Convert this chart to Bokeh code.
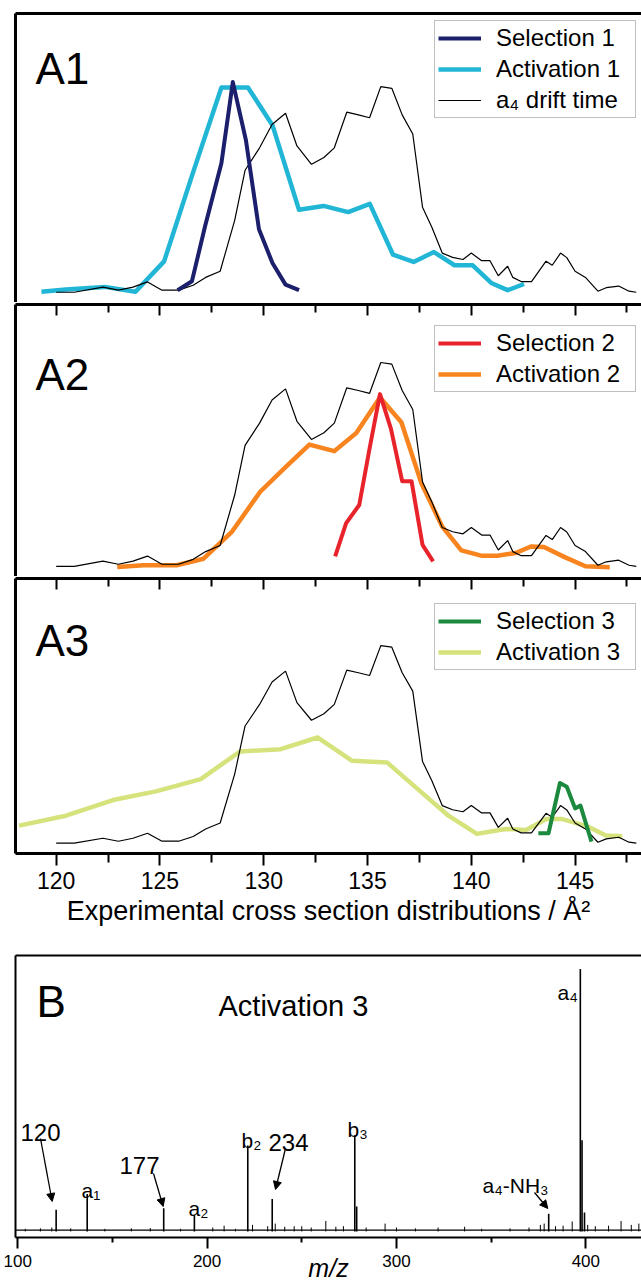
from bokeh.plotting import figure
from bokeh.models import (Range1d, LinearAxis, FixedTicker, Legend, LegendItem,
                          Label, Arrow, NormalHead, ColumnDataSource)
from bokeh.layouts import column
from bokeh.embed import file_html
from bokeh.resources import INLINE

FONT = "Liberation Sans"

# ---------------- data: panel A (cross-section distributions) ----------------
drift_x = [120.0, 120.87, 122.25, 123.0, 123.7, 124.4, 125.1, 125.9, 126.6, 127.2,
           127.9, 128.6, 129.1, 129.8, 130.4, 131.05, 131.6, 132.3, 132.9, 133.4,
           134.0, 134.56, 135.1, 135.64, 136.17, 136.67, 137.18, 137.65, 138.1, 138.6,
           139.1, 139.6, 140.0, 140.5, 140.9, 141.3, 141.75, 142.0, 142.4, 142.9,
           143.6, 143.9, 144.3, 144.6, 145.0, 145.5, 146.1, 146.5, 147.1, 147.6, 147.95]
drift_y = [0, 0, 2.5, 1, 2.5, 5, 1, 1, 3.4, 7.2,
           10.2, 34.9, 59.2, 70.1, 81.4, 86.9, 71, 62.1, 65.4, 70.1,
           87.4, 86.1, 84.7, 99.8, 99, 86.1, 76.8, 41.3, 31.5, 19,
           16.9, 15.9, 19, 15.3, 15.3, 8, 12.6, 7.2, 5.2, 5.2,
           15.1, 13.1, 19, 16.8, 10.2, 7.2, 0.5, 2.2, 3, 0.5, 0]

sel1_x = [125.85, 126.54, 127.17, 127.96, 128.51, 129.14, 129.77, 130.42, 131.05, 131.70]
sel1_y = [1, 5.3, 31.9, 62.6, 102, 73.9, 30.6, 14.2, 3.7, 1]
act1_x = [119.29, 120.47, 122.34, 123.82, 125.2, 126.58, 127.96, 129.24, 130.42, 131.7,
          132.88, 134.07, 135.11, 136.23, 137.22, 138.2, 139.19, 140.07, 140.96, 141.75, 142.54]
act1_y = [0.2, 1.3, 2.6, 0.2, 15, 57.7, 99.4, 99.4, 81.1, 40,
          41.9, 38.9, 42.9, 18.2, 14.7, 19.5, 13.1, 13.1, 4.5, 1, 4]

sel2_x = [133.44, 133.97, 134.6, 135.11, 135.6, 136.13, 136.67, 137.12, 137.65, 138.16]
sel2_y = [4.9, 21.1, 30, 58.3, 84.3, 67.3, 41.7, 41.7, 10.5, 2.4]
act2_x = [122.94, 124.2, 125.8, 127.1, 128.45, 129.83, 131.05, 132.2, 133.4, 134.46,
          135.6, 136.63, 137.6, 138.6, 139.52, 140.47, 141.26, 142.14, 142.87, 143.5,
          144.5, 145.5, 146.67]
act2_y = [-0.3, 0.5, 0.5, 3.7, 16.7, 36.5, 48.6, 59.6, 56.4, 65.3,
          82.7, 70.5, 40.5, 19.4, 7.8, 5.2, 5.2, 6.5, 9.7, 9.4,
          4.5, 0, -0.5]

sel3_x = [143.23, 143.72, 144.27, 144.6, 145.0, 145.26, 145.79]
sel3_y = [5, 5, 30.4, 28.5, 17.6, 19, 0.8]
act3_x = [118.21, 120.47, 122.74, 124.8, 126.97, 128.85, 130.82, 132.59, 134.26, 135.94,
          137.42, 138.9, 140.27, 141.65, 142.64, 143.62, 144.4, 145.69, 146.48, 147.27]
act3_y = [8.9, 13.9, 21.8, 26.2, 32.4, 46.3, 47.5, 53.4, 41.6, 40.8,
          27.3, 13.9, 4.7, 7.2, 6.7, 12.2, 12.2, 8.1, 3.9, 3.5]

a_major_ticks = [120, 125, 130, 135, 140, 145]
a_minor_ticks = [122.5, 127.5, 132.5, 137.5, 142.5, 147.5]
a_title = "Experimental cross section distributions / Å²"

# ---------------- data: panel B (mass spectrum, Activation 3) ----------------
peak_mz = [120.3, 136.7, 177.1, 193.3, 221.5, 234.4, 278.0, 279.0, 380.4, 397.1, 398.0, 399.3]
peak_int = [8.3, 14.3, 8.8, 6.1, 32.7, 12.4, 36.6, 9.5, 6.7, 100, 34.7, 7.2]
noise_mz = [104, 112, 118, 128, 146, 160, 170, 186, 203, 209, 215, 224, 232, 236, 241,
            246, 250, 255, 262.7, 268, 272, 284, 294, 300, 310, 322, 336, 345, 360,
            370, 376, 378, 384, 388, 392.8, 401, 405, 412, 418.6, 424, 428]
noise_int = [1.0, 1.2, 1.5, 1.2, 1.0, 1.2, 1.3, 1.0, 1.5, 2.2, 1.0, 2.5, 2.0, 3.0, 1.8,
             2.0, 2.0, 1.5, 4.0, 1.8, 2.0, 1.5, 3.0, 1.5, 1.2, 1.5, 1.8, 1.0, 1.2,
             1.5, 2.5, 3.0, 2.0, 2.2, 3.8, 2.5, 2.0, 2.2, 4.0, 2.5, 3.0]
baseline_mz = [98.9, 429.4]
baseline_int = [0.5, 0.5]
b_major_ticks = [100, 200, 300, 400]
b_minor_ticks = [150, 250, 350]
b_title = "m/z"

# ---------------- styling ----------------
W = 641
A_XR = (118.04, 148.2)
C_SEL1, C_ACT1 = "#1c1f6b", "#22b6d6"
C_SEL2, C_ACT2 = "#e8232b", "#f7841f"
C_SEL3, C_ACT3 = "#1b8a3f", "#d6e37d"


def make_fig(h, xr, yr, top, bottom):
    p = figure(width=W, height=h, x_range=Range1d(*xr), y_range=Range1d(*yr),
               output_backend="svg", toolbar_location=None,
               x_axis_location=None, y_axis_location=None,
               min_border_left=15, min_border_right=0,
               min_border_top=top, min_border_bottom=bottom)
    p.outline_line_color = None
    p.xgrid.visible = False
    p.ygrid.visible = False
    p.background_fill_color = "white"
    p.border_fill_color = "white"
    return p


def border_axis(lw, ticks=None, minor=None, tin=0, min_in=0):
    return LinearAxis(ticker=FixedTicker(ticks=ticks or [], minor_ticks=minor or []),
                      major_label_text_font_size="0px", major_label_standoff=0,
                      major_label_text_alpha=0,
                      major_tick_in=tin, major_tick_out=0,
                      minor_tick_in=min_in, minor_tick_out=0,
                      major_tick_line_width=2, minor_tick_line_width=2,
                      axis_line_width=lw, axis_line_color="black")


def add_legend(p, items, y):
    lg = Legend(items=[LegendItem(label=l, renderers=[r]) for l, r in items],
                location=(419, y), orientation="vertical",
                label_text_font=FONT, label_text_font_size="24px", label_text_color="black",
                glyph_width=43, glyph_height=20, label_standoff=15, label_width=136,
                padding=3, spacing=3, margin=0,
                border_line_color="#808080", border_line_width=1,
                background_fill_color="white", background_fill_alpha=1)
    p.add_layout(lg)


def panel_label(p, text, x, y, size="44px"):
    p.add_layout(Label(x=x, y=y, x_units="screen", y_units="screen", text=text,
                       text_font=FONT, text_font_size=size, text_color="black",
                       text_baseline="alphabetic"))


# ---------------- A1 ----------------
p1 = make_fig(302, A_XR, (-4.98, 135.3), 13, 0)
p1.add_layout(border_axis(3), "left")
p1.add_layout(border_axis(3), "above")
r_a1 = p1.line(act1_x, act1_y, line_color=C_ACT1, line_width=4.5, line_join="round")
r_d1 = p1.line(drift_x, drift_y, line_color="black", line_width=1.2)
r_s1 = p1.line(sel1_x, sel1_y, line_color=C_SEL1, line_width=4, line_join="round")
add_legend(p1, [("Selection 1", r_s1), ("Activation 1", r_a1), ("a₄ drift time", r_d1)], 184)
panel_label(p1, "A1", 20, 234)

# ---------------- A2 ----------------
p2 = make_fig(274, A_XR, (-5.0, 128.2), 2, 0)
p2.add_layout(border_axis(3), "left")
p2.add_layout(border_axis(3, a_major_ticks, a_minor_ticks, 11, 8), "above")
r_a2 = p2.line(act2_x, act2_y, line_color=C_ACT2, line_width=4.5, line_join="round")
p2.line(drift_x, drift_y, line_color="black", line_width=1.2)
r_s2 = p2.line(sel2_x, sel2_y, line_color=C_SEL2, line_width=4, line_join="round")
add_legend(p2, [("Selection 2", r_s2), ("Activation 2", r_a2)], 184)
panel_label(p2, "A2", 20, 202)

# ---------------- A3 ----------------
p3 = make_fig(359, A_XR, (-5.2, 133.7), 2, 82)
p3.add_layout(border_axis(3), "left")
p3.add_layout(border_axis(3, a_major_ticks, a_minor_ticks, 11, 8), "above")
xa = LinearAxis(ticker=FixedTicker(ticks=a_major_ticks, minor_ticks=a_minor_ticks),
                major_tick_in=0, major_tick_out=12, minor_tick_in=0, minor_tick_out=9,
                major_tick_line_width=2, minor_tick_line_width=2,
                axis_line_width=3, axis_line_color="black",
                major_label_text_font=FONT, major_label_text_font_size="23px",
                major_label_text_color="black", major_label_standoff=6,
                axis_label=a_title, axis_label_text_font=FONT,
                axis_label_text_font_size="27px", axis_label_text_font_style="normal",
                axis_label_text_color="black", axis_label_standoff=4)
p3.add_layout(xa, "below")
r_a3 = p3.line(act3_x, act3_y, line_color=C_ACT3, line_width=4.5, line_join="round")
p3.line(drift_x, drift_y, line_color="black", line_width=1.2)
r_s3 = p3.line(sel3_x, sel3_y, line_color=C_SEL3, line_width=4, line_join="round")
add_legend(p3, [("Selection 3", r_s3), ("Activation 3", r_a3)], 183)
panel_label(p3, "A3", 20, 213)

# ---------------- B ----------------
pb = make_fig(352, (98.84, 429.4), (-2.3, 105.1), 20, 50)
pb.add_layout(border_axis(2), "left")
pb.add_layout(border_axis(2), "above")
xb = LinearAxis(ticker=FixedTicker(ticks=b_major_ticks, minor_ticks=b_minor_ticks),
                major_tick_in=0, major_tick_out=11, minor_tick_in=0, minor_tick_out=5,
                major_tick_line_width=2, minor_tick_line_width=2,
                axis_line_width=2, axis_line_color="black",
                major_label_text_font=FONT, major_label_text_font_size="17px",
                major_label_text_color="black", major_label_standoff=6,
                axis_label=b_title, axis_label_text_font=FONT,
                axis_label_text_font_size="25px", axis_label_text_font_style="italic",
                axis_label_text_color="black", axis_label_standoff=-16)
pb.add_layout(xb, "below")

pb.line(baseline_mz, baseline_int, line_color="black", line_width=1.2)
src_noise = ColumnDataSource(dict(x=noise_mz, y0=[0] * len(noise_mz), y1=noise_int))
pb.segment(x0="x", y0="y0", x1="x", y1="y1", source=src_noise, line_color="black", line_width=1)
src_peaks = ColumnDataSource(dict(x=peak_mz, y0=[0] * len(peak_mz), y1=peak_int))
pb.segment(x0="x", y0="y0", x1="x", y1="y1", source=src_peaks, line_color="black", line_width=1.6)


# frame of B: left edge at page x 15, bottom edge at page y 1237
def b_text(text, px, py, size, style="normal", align="left"):
    pb.add_layout(Label(x=px - 15, y=1237 - py, x_units="screen", y_units="screen",
                        text=text, text_font=FONT, text_font_size=size,
                        text_font_style=style, text_color="black",
                        text_align=align, text_baseline="alphabetic"))


b_text("B", 36, 1001, "44px")
b_text("Activation 3", 218, 1005, "29px")
b_text("120", 20, 1132, "24px")
b_text("177", 119, 1165, "24px")
b_text("234", 268, 1142, "24px")
b_text("a₁", 81, 1190, "21px")
b_text("a₂", 188, 1208, "21px")
b_text("b₂", 241, 1140, "21px")
b_text("b₃", 347, 1129, "21px")
b_text("a₄-NH₃", 482, 1185, "21px")
b_text("a₄", 557, 992, "21px")

for (x0, y0, x1, y1) in [(40, 1138, 51.7, 1201), (153, 1173, 162.7, 1206),
                         (285, 1148, 275, 1189), (534, 1192, 547.3, 1208)]:
    pb.add_layout(Arrow(end=NormalHead(size=8, fill_color="black", line_color="black", line_width=1),
                        x_start=x0 - 15, y_start=1237 - y0, x_end=x1 - 15, y_end=1237 - y1,
                        start_units="screen", end_units="screen",
                        line_color="black", line_width=1.3))

layout = column(p1, p2, p3, pb, spacing=0)
open("out.html", "w").write(file_html(layout, INLINE))
